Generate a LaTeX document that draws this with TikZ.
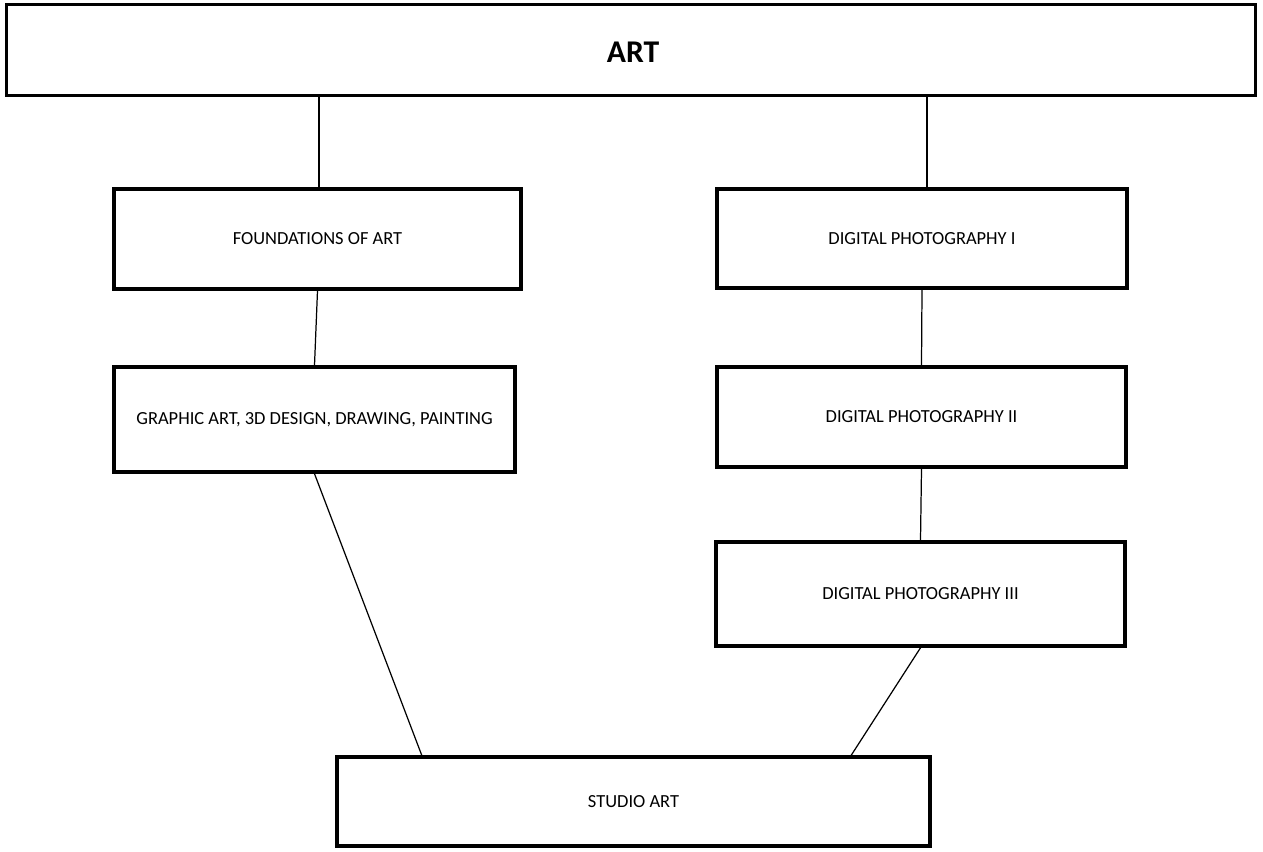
\documentclass[tikz,border=0pt]{standalone}
\usepackage{fontspec}
\setmainfont{Carlito}
\usetikzlibrary{calc}
\tikzset{
    topbox/.style = {rectangle, draw=black, line width=2pt, minimum width=24.98cm, minimum height=1.82cm, font=\fontsize{18}{21}\selectfont\bfseries},
    course/.style = {rectangle, draw=black, line width=2pt, align=center, font=\fontsize{10.5}{12}\selectfont},
    link/.style = {draw=black, line width=0.7pt}
}
\begin{document}
\begin{tikzpicture}
\useasboundingbox (0,0) rectangle (25.26,-17.04);
%
\node[topbox] at (12.62,-1.0) (art) {};
\node at (12.66,-1.05) (arttext) {\fontsize{18}{21}\selectfont\bfseries ART};
\node[course, minimum width=8.14cm, minimum height=2.0cm] at (6.35,-4.78) (found) {FOUNDATIONS OF ART};
\node[course, minimum width=8.02cm, minimum height=2.1cm] at (6.29,-8.39) (graphic) {GRAPHIC ART, 3D DESIGN, DRAWING, PAINTING};
\node[course, minimum width=8.2cm, minimum height=1.98cm] at (18.44,-4.77) (dpone) {DIGITAL PHOTOGRAPHY I};
\node[course, minimum width=8.18cm, minimum height=2.0cm] at (18.43,-8.34) (dptwo) {DIGITAL PHOTOGRAPHY II};
\node[course, minimum width=8.18cm, minimum height=2.08cm] at (18.41,-11.88) (dpthree) {DIGITAL PHOTOGRAPHY III};
\node[course, minimum width=11.86cm, minimum height=1.78cm] at (12.67,-16.03) (studio) {STUDIO ART};
%
\draw[link] (art.south -| 6.38,0) -- (found.north -| 6.38,0);
\draw[link] (art.south -| 18.54,0) -- (dpone.north -| 18.54,0);
\draw[link] (found.south) -- (graphic.north);
\draw[link] (dpone.south) -- (dptwo.north);
\draw[link] (dptwo.south) -- (dpthree.north);
\draw[link] (graphic.south) -- ($(studio.north west)!0.145!(studio.north east)$);
\draw[link] (dpthree.south) -- ($(studio.north west)!0.865!(studio.north east)$);

\end{tikzpicture}
\end{document}
